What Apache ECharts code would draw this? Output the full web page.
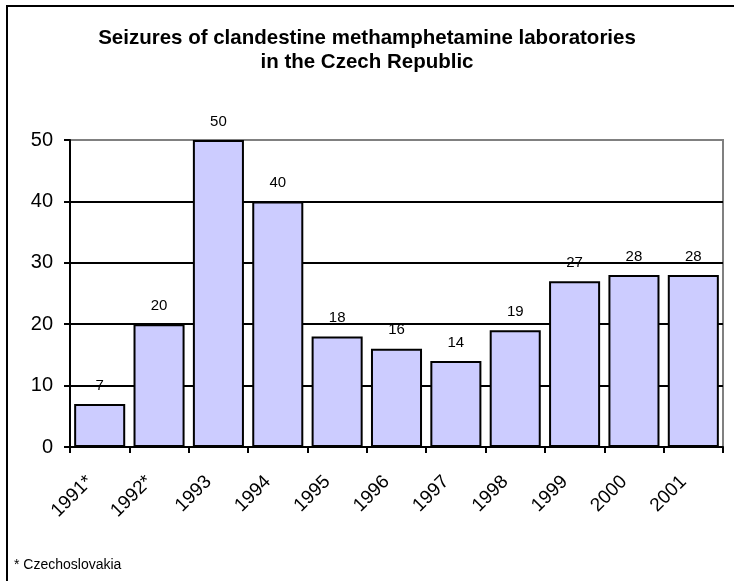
<!DOCTYPE html>
<html>
<head>
<meta charset="utf-8">
<title>Seizures of clandestine methamphetamine laboratories</title>
<script src="https://cdn.jsdelivr.net/npm/echarts@6/dist/echarts.min.js"></script>
<style>
  html, body { margin: 0; padding: 0; background: #ffffff; }
  #chart { width: 734px; height: 581px; }
</style>
</head>
<body>
<div id="chart"></div>
<script>
// Years of observation (asterisk marks the former Czechoslovakia)
const years = ['1991*', '1992*', '1993', '1994', '1995', '1996', '1997', '1998', '1999', '2000', '2001'];
// Number of laboratories seized per year
const seizures = [7, 20, 50, 40, 18, 16, 14, 19, 27, 28, 28];
// Value axis tick settings
const yMin = 0;
const yMax = 50;
const yStep = 10;

const FONT = '"Liberation Sans", Arial, Helvetica, sans-serif';

const chart = echarts.init(document.getElementById('chart'), null, { renderer: 'canvas' });

chart.setOption({
  backgroundColor: '#ffffff',
  animation: false,
  title: {
    text: 'Seizures of clandestine methamphetamine laboratories\nin the Czech Republic',
    left: 'center',
    top: 22,
    textStyle: {
      fontFamily: FONT,
      fontWeight: 'bold',
      fontSize: 20.5,
      lineHeight: 23.5,
      color: '#000000'
    }
  },
  graphic: [
    {
      type: 'rect',
      shape: { x: 7, y: 6, width: 760, height: 620 },
      style: { fill: 'none', stroke: '#000000', lineWidth: 2 },
      silent: true
    },
    {
      type: 'text',
      left: 14,
      top: 558,
      style: {
        text: '* Czechoslovakia',
        font: '14px ' + FONT,
        fill: '#000000'
      }
    }
  ],
  grid: {
    left: 70,
    right: 11,
    top: 140,
    bottom: 134,
    show: true,
    backgroundColor: '#ffffff',
    borderColor: '#808080',
    borderWidth: 2,
    containLabel: false
  },
  xAxis: {
    type: 'category',
    data: years,
    boundaryGap: true,
    axisLine: { show: true, lineStyle: { color: '#000000', width: 2 } },
    axisTick: { show: true, alignWithLabel: false, length: 6, lineStyle: { color: '#000000', width: 2 } },
    axisLabel: {
      rotate: 45,
      margin: 22,
      padding: [0, 14, 0, 0],
      interval: 0,
      fontFamily: FONT,
      fontSize: 19,
      color: '#000000'
    },
    splitLine: { show: false }
  },
  yAxis: {
    type: 'value',
    min: yMin,
    max: yMax,
    interval: yStep,
    axisLine: { show: true, lineStyle: { color: '#000000', width: 2 } },
    axisTick: { show: true, length: 6, lineStyle: { color: '#000000', width: 2 } },
    axisLabel: {
      margin: 17,
      fontFamily: FONT,
      fontSize: 20,
      color: '#000000'
    },
    splitLine: {
      show: true,
      showMaxLine: false,
      lineStyle: { color: '#000000', width: 2 }
    }
  },
  series: [
    {
      type: 'bar',
      data: seizures,
      barCategoryGap: '14%',
      itemStyle: {
        color: '#ccccff',
        borderColor: '#000000',
        borderWidth: 2
      },
      label: {
        show: true,
        position: 'top',
        distance: 11,
        fontFamily: FONT,
        fontSize: 15,
        color: '#000000'
      }
    }
  ]
});
</script>
</body>
</html>
